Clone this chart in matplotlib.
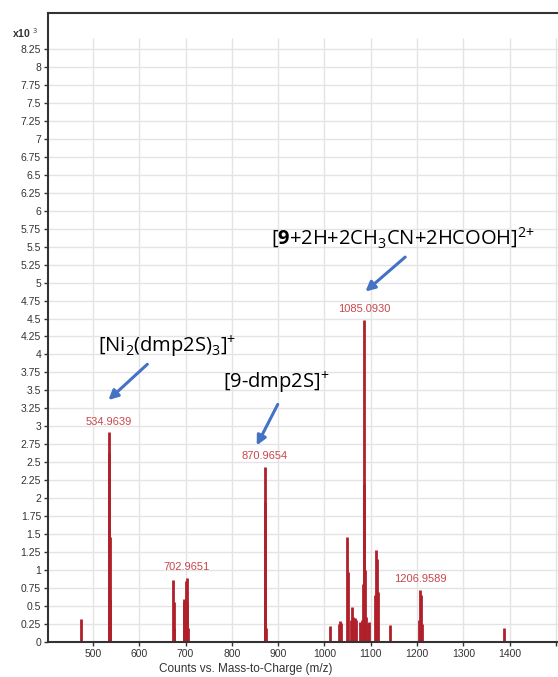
import matplotlib.pyplot as plt

plt.rcParams['font.family'] = ['Liberation Sans', 'DejaVu Sans']
plt.rcParams['mathtext.fontset'] = 'custom'
plt.rcParams['mathtext.rm'] = 'Open Sans'
plt.rcParams['mathtext.it'] = 'Open Sans'
plt.rcParams['mathtext.bf'] = 'Open Sans:bold'

# Peak list (m/z, counts x10^3)
mz = [473.8,
      534.96, 535.3, 535.9, 536.9,
      673.9, 674.9, 675.9, 695.9, 697.0, 698.0, 701.0, 702.97, 703.9, 705.0,
      870.97, 871.4, 872.0, 873.0,
      1011.0, 1031.0, 1033.0, 1035.0, 1048.6, 1050.0,
      1057.0, 1060.0, 1062.5, 1066.0, 1069.0, 1076.0,
      1081.0, 1083.0, 1085.09, 1086.5, 1088.0, 1090.0, 1094.0, 1097.0,
      1109.5, 1112.0, 1114.5, 1116.0, 1142.0,
      1204.0, 1206.96, 1208.5, 1210.5, 1388.0]
intensity = [0.32,
             2.92, 2.63, 1.46, 0.60,
             0.86, 0.55, 0.20, 0.56, 0.60, 0.45, 0.85, 0.89, 0.55, 0.20,
             2.44, 1.95, 0.77, 0.20,
             0.22, 0.25, 0.29, 0.27, 1.46, 0.97,
             0.30, 0.49, 0.35, 0.33, 0.30, 0.28,
             0.30, 0.80, 4.48, 2.20, 1.00, 0.35, 0.27, 0.28,
             0.66, 1.28, 1.16, 0.70, 0.24,
             0.30, 0.73, 0.65, 0.25, 0.20]

label_mz = [534.9639, 702.9651, 870.9654, 1085.0930, 1206.9589]
label_top = [2.92, 0.89, 2.44, 4.48, 0.73]

x_ticks = [500, 600, 700, 800, 900, 1000, 1100, 1200, 1300, 1400, 1500]
x_labels = ['500', '600', '700', '800', '900', '1000', '1100', '1200', '1300', '1400', '']
y_ticks = [i * 0.25 for i in range(34)]

fig = plt.figure(figsize=(5.58, 6.77), dpi=100)
xmin, xmax = 403, 1540
ax = fig.add_axes([48 / 558, 35 / 677, (xmax - xmin) * 0.463 / 558, 629 / 677])
ax.set_xlim(xmin, xmax)
ax.set_ylim(0, 8.75)

# grid
for y in y_ticks[1:]:
    ax.axhline(y, color='#e4e4e4', lw=1, zorder=0)
ax.vlines(x_ticks, 0, 8.4, color='#e4e4e4', lw=1, zorder=0)

# peaks
ax.vlines(mz, 0, intensity, color='#b0202a', lw=2, zorder=2)

for m, top in zip(label_mz, label_top):
    ax.annotate(f'{m:.4f}', (m, top), textcoords='offset points', xytext=(0, 4),
                ha='center', va='bottom', fontsize=8, color='#c8474c')

# assignments
blue = '#4472c4'
ax.text(660, 4.10, r'[Ni$_2$(dmp2S)$_3]^{+}$', ha='center', va='center',
        fontsize=14.5, family='Open Sans')
ax.annotate('', xy=(529, 3.34), xytext=(622, 3.89),
            arrowprops=dict(arrowstyle='-|>', color=blue, lw=2.2, mutation_scale=14))
ax.text(896, 3.60, r'[9-dmp2S$]^{+}$', ha='center', va='center',
        fontsize=14.5, family='Open Sans')
ax.annotate('', xy=(851, 2.70), xytext=(902, 3.34),
            arrowprops=dict(arrowstyle='-|>', color=blue, lw=2.2, mutation_scale=14))
ax.text(1170, 5.62, r'[$\mathbf{9}$+2H+2CH$_3$CN+2HCOOH$]^{2{+}}$', ha='center', va='center',
        fontsize=14.5, family='Open Sans')
ax.annotate('', xy=(1084, 4.85), xytext=(1179, 5.38),
            arrowprops=dict(arrowstyle='-|>', color=blue, lw=2.2, mutation_scale=14))

# axes styling
ax.set_xticks(x_ticks)
ax.set_xticklabels(x_labels)
ax.set_yticks(y_ticks)
ax.set_yticklabels([f'{y:g}' for y in y_ticks])
ax.tick_params(axis='both', labelsize=7.5, colors='#333333', length=3, width=1, pad=2)
for side in ['left', 'top', 'bottom']:
    ax.spines[side].set_color('#333333')
    ax.spines[side].set_linewidth(1.5)
ax.spines['right'].set_visible(False)
ax.set_xlabel('Counts vs. Mass-to-Charge (m/z)', fontsize=8.5, color='#333333')
ax.xaxis.set_label_coords(0.376, -0.033)

fig.text(12 / 558, 1 - 33 / 677, r'x10 $^{3}$', fontsize=7.5, color='#333333',
         va='center', weight='bold')

fig.savefig('out.png', dpi=100)
